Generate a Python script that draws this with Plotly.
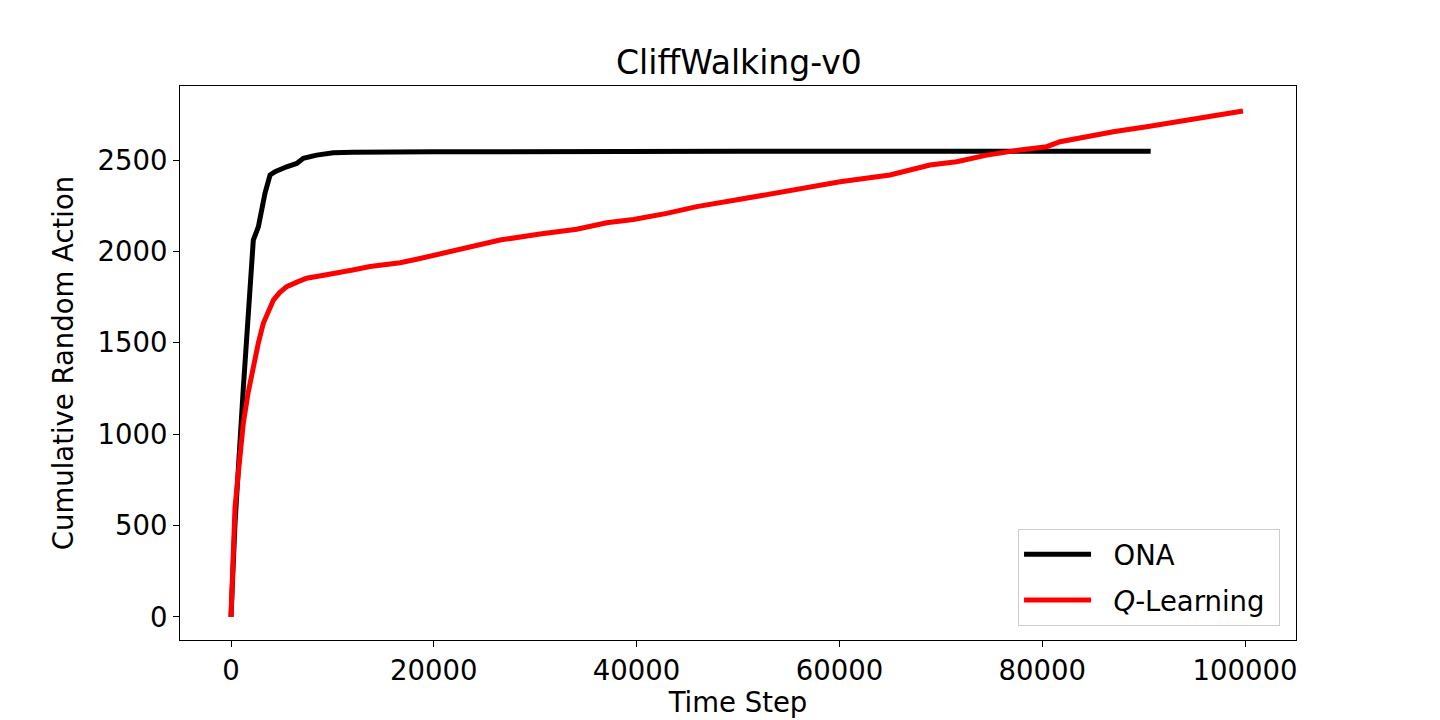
import plotly.graph_objects as go

# ONA cumulative random actions
ona_x = [0, 394, 1200, 1870, 2100, 2200, 2700, 3025, 3350, 3850, 4340, 5490, 6480, 7130,
         8450, 10090, 12060, 20000, 30000, 50000, 70000, 90700]
ona_y = [0, 512, 1240, 1800, 2045, 2062, 2135, 2245, 2318, 2418, 2436, 2463, 2481, 2509,
         2527, 2540, 2543, 2545, 2547, 2548, 2548, 2548]

# Q-Learning cumulative random actions
q_x = [0, 230, 394, 720, 1215, 1700, 2200, 2700, 3190, 3700, 4180, 4800, 5490, 6500, 7460,
       9000, 10420, 12000, 13710, 16670, 18310, 21600, 24000, 26530, 30470, 34090, 37050,
       39680, 42970, 45930, 50200, 55130, 60060, 64990, 67620, 68930, 71560, 74530, 77810,
       80440, 81760, 84000, 87010, 90300, 93590, 96880, 99800]
q_y = [0, 420, 600, 786, 1060, 1230, 1369, 1500, 1607, 1680, 1734, 1775, 1807, 1832, 1853,
       1868, 1880, 1898, 1917, 1938, 1957, 2000, 2030, 2062, 2095, 2121, 2157,
       2175, 2208, 2245, 2285, 2332, 2381, 2418, 2454, 2473, 2491, 2527, 2555,
       2573, 2600, 2625, 2655, 2682, 2710, 2743, 2768]

x_ticks = [0, 20000, 40000, 60000, 80000, 100000]
y_ticks = [0, 500, 1000, 1500, 2000, 2500]

FONT = "DejaVu Sans"
FS = 27.5

fig = go.Figure()
fig.add_trace(go.Scatter(x=ona_x, y=ona_y, mode="lines", name="&nbsp;&nbsp;ONA&nbsp;",
                         line=dict(color="black", width=5), legendgroup="a"))
fig.add_trace(go.Scatter(x=q_x, y=q_y, mode="lines",
                         name="&nbsp;&nbsp;<i>Q</i>-Learning&nbsp;",
                         line=dict(color="red", width=5), legendgroup="b"))

axis_common = dict(showgrid=False, zeroline=False, showline=True, mirror=True,
                   linecolor="black", linewidth=1.2, ticks="outside", ticklen=6,
                   tickwidth=1.2, tickcolor="black",
                   tickfont=dict(family=FONT, size=FS, color="black"))

fig.update_layout(
    width=1432, height=712,
    paper_bgcolor="white", plot_bgcolor="white",
    margin=dict(l=172, r=144, t=78, b=80),
    font=dict(family=FONT, size=FS, color="black"),
    title=dict(text="CliffWalking-v0", x=0.5104, xanchor="center", y=0.924, yanchor="middle",
               font=dict(family=FONT, size=33, color="black")),
    xaxis=dict(range=[-5030, 105030], tickvals=x_ticks,
               ticktext=[str(v) for v in x_ticks],
               title=dict(text="Time Step", standoff=2,
                          font=dict(family=FONT, size=FS, color="black")),
               **axis_common),
    yaxis=dict(range=[-126, 2905], tickvals=y_ticks,
               ticktext=[str(v) for v in y_ticks],
               title=dict(text="Cumulative Random Action", standoff=15,
                          font=dict(family=FONT, size=FS, color="black")),
               **axis_common),
    legend=dict(x=0.9857, y=0.0253, xanchor="right", yanchor="bottom",
                bgcolor="rgba(255,255,255,0.8)", bordercolor="#cccccc", borderwidth=1,
                font=dict(family=FONT, size=FS, color="black"),
                itemwidth=67, traceorder="grouped", tracegroupgap=7),
    showlegend=True,
)

fig.write_html("out.html")
